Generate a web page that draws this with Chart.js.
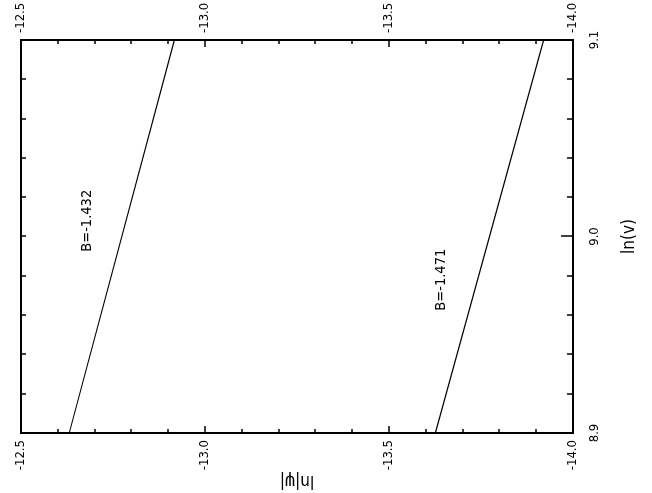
<!DOCTYPE html>
<html lang="en">
<head>
<meta charset="UTF-8">
<title>ln|ψ| vs ln(v)</title>
<style>
    html, body {
        margin: 0;
        padding: 0;
        background: #fff;
        overflow: hidden;
    }
    /* chart is drawn upright, then turned a quarter turn like the scanned figure */
    #wrap {
        position: absolute;
        left: 0;
        top: 0;
        width: 493px;
        height: 652px;
        transform-origin: 0 0;
        transform: translateY(493px) rotate(-90deg);
    }
</style>
<script src="https://cdn.jsdelivr.net/npm/chart.js"></script>
</head>
<body>
<div id="wrap"><canvas id="chart" width="493" height="652"></canvas></div>
<script>
    // data
    const lnV = [8.9, 9.1];
    const lineLow = [-12.631, -12.917];   // B=-1.432
    const lineHigh = [-13.626, -13.920];  // B=-1.471
    const noteText = ['B=-1.432', 'B=-1.471'];
    const noteX = [9.008, 8.978];
    const noteY = [-12.680, -13.643];
    const xRange = [8.9, 9.1];
    const yRange = [-14.0, -12.5];

    const FONT = "'DejaVu Sans Condensed', 'Liberation Sans Narrow', 'Liberation Sans', Arial, sans-serif";
    Chart.defaults.font.family = FONT;
    Chart.defaults.color = '#000';

    function onStep(v, step) {
        const k = v / step;
        return Math.abs(k - Math.round(k)) < 1e-6;
    }

    const framePlugin = {
        id: 'frame',
        afterDatasetsDraw(chart) {
            const { ctx, chartArea: a, scales } = chart;
            ctx.save();
            ctx.strokeStyle = '#000';
            ctx.lineWidth = 2;
            ctx.strokeRect(a.left, a.top, a.right - a.left, a.bottom - a.top);

            ctx.lineWidth = 1.5;
            ctx.beginPath();
            scales.x.ticks.forEach(t => {
                const px = Math.round(scales.x.getPixelForValue(t.value));
                const len = onStep(t.value, 0.1) ? 12 : 6;
                ctx.moveTo(px, a.bottom);
                ctx.lineTo(px, a.bottom - len);
                ctx.moveTo(px, a.top);
                ctx.lineTo(px, a.top + 5);
            });
            scales.y.ticks.forEach(t => {
                const py = Math.round(scales.y.getPixelForValue(t.value));
                const len = onStep(t.value, 0.5) ? 7 : 4;
                ctx.moveTo(a.left, py);
                ctx.lineTo(a.left + len, py);
                ctx.moveTo(a.right, py);
                ctx.lineTo(a.right - len, py);
            });
            ctx.stroke();

            // slope annotations
            ctx.fillStyle = '#000';
            ctx.font = '14.5px ' + FONT;
            ctx.textAlign = 'center';
            ctx.textBaseline = 'middle';
            noteText.forEach((txt, i) => {
                ctx.fillText(txt, scales.x.getPixelForValue(noteX[i]), scales.y.getPixelForValue(noteY[i]));
            });
            ctx.restore();
        }
    };

    const ctx = document.getElementById('chart').getContext('2d');
    new Chart(ctx, {
        type: 'line',
        data: {
            datasets: [{
                data: lnV.map((v, i) => ({ x: v, y: lineLow[i] })),
                borderColor: '#000',
                borderWidth: 1.2,
                pointRadius: 0,
                yAxisID: 'y'
            }, {
                data: lnV.map((v, i) => ({ x: v, y: lineHigh[i] })),
                borderColor: '#000',
                borderWidth: 1.2,
                pointRadius: 0,
                yAxisID: 'y'
            }]
        },
        options: {
            responsive: false,
            animation: false,
            events: [],
            layout: { padding: { top: 21, left: 0, right: 0, bottom: 0 } },
            plugins: {
                legend: { display: false },
                tooltip: { enabled: false }
            },
            scales: {
                x: {
                    type: 'linear',
                    position: 'bottom',
                    min: xRange[0],
                    max: xRange[1],
                    afterFit: s => { s.height = 79; },
                    grid: { display: false, drawTicks: false },
                    border: { display: false },
                    ticks: {
                        stepSize: 0.02,
                        autoSkip: false,
                        maxRotation: 0,
                        padding: 14,
                        font: { size: 13 },
                        callback: v => onStep(v, 0.1) ? v.toFixed(1) : ''
                    },
                    title: {
                        display: true,
                        text: 'ln(v)',
                        font: { size: 17 },
                        padding: { top: 0, bottom: 12 }
                    }
                },
                y: {
                    type: 'linear',
                    position: 'left',
                    min: yRange[0],
                    max: yRange[1],
                    afterFit: s => { s.width = 60; },
                    grid: { display: false, drawTicks: false },
                    border: { display: false },
                    ticks: {
                        stepSize: 0.1,
                        autoSkip: false,
                        padding: 7,
                        font: { size: 13 },
                        callback: v => onStep(v, 0.5) ? v.toFixed(1) : ''
                    },
                    title: {
                        display: true,
                        text: 'ln|ψ|',
                        font: { size: 17 },
                        padding: { top: 2, bottom: 0 }
                    }
                },
                y2: {
                    type: 'linear',
                    position: 'right',
                    display: true,
                    min: yRange[0],
                    max: yRange[1],
                    afterFit: s => { s.width = 40; },
                    grid: { display: false, drawTicks: false },
                    border: { display: false },
                    ticks: {
                        stepSize: 0.1,
                        autoSkip: false,
                        padding: 7,
                        font: { size: 13 },
                        callback: v => onStep(v, 0.5) ? v.toFixed(1) : ''
                    }
                }
            }
        },
        plugins: [framePlugin]
    });
</script>
</body>
</html>
